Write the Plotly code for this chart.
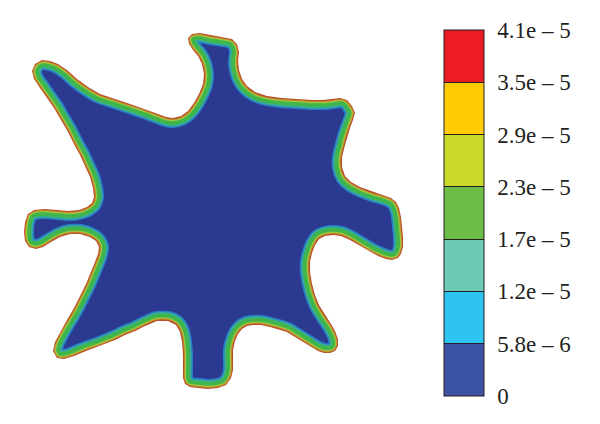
import plotly.graph_objects as go

# Outer edge of the particle outline (image pixel coordinates, y downward)
outline_x = [188,192,200,210,222,232,237,239,238,239,242,247,255,267,282,297,312,323,333,340,347,352,355,353,350,347,345,342,342,345,351,360,373,383,391,396,399,401,402,403,403,401,398,392,386,378,370,360,350,341,333,325,319,315,312,310,310,312,315,319,325,331,335,338,338,335,330,324,318,311,303,295,287,278,270,261,253,247,242,238,235,233,233,233,231,226,218,208,198,190,185,183,183,183,182,180,176,168,157,145,135,125,115,100,86,74,64,57,53,55,60,67,74,80,86,91,95,98,99,96,90,80,70,60,51,43,36,29,25,24,25,28,34,45,57,68,79,87,92,94,93,90,85,80,74,68,61,54,47,40,34,32,35,42,50,58,67,77,88,100,115,130,145,158,166,173,181,188,194,199,203,204,202,198,193,189]
outline_y = [38,34,33,35,37,39,44,52,61,70,79,86,92,96,98,99,100,100,99,98,100,106,113,120,128,137,145,157,167,176,182,187,192,195,198,202,208,217,227,237,247,254,258,260,259,256,252,246,240,236,235,236,239,245,253,262,272,284,295,305,315,324,331,339,346,351,353,353,351,347,342,337,332,329,327,325,325,326,329,334,341,350,360,370,378,385,388,389,388,387,384,378,368,355,342,332,325,321,321,326,331,335,340,346,351,356,359,358,351,342,332,320,308,296,284,272,262,254,247,241,237,234,234,237,242,247,249,247,241,232,222,214,210,209,210,211,210,207,203,197,188,177,166,155,144,132,120,108,98,88,79,71,64,60,61,64,70,79,87,94,99,104,109,114,117,118,116,111,103,94,84,74,64,56,50,44]

# Colour-bar classes
level_labels = ["0", "5.8e \u2013 6", "1.2e \u2013 5", "1.7e \u2013 5", "2.3e \u2013 5",
                "2.9e \u2013 5", "3.5e \u2013 5", "4.1e \u2013 5"]
level_colors = ["#3a53a4", "#2ec4f2", "#6dc8b4", "#6bbd45", "#c9da2a", "#ffcb05", "#ed1c24"]

interior_color = "#2b3990"
# boundary layer (from inside to outside)
ring_colors = ["#2a7fc4", "#37ad9c", "#3fb54c", "#9ac83a", "#c9822e", "#b5502a"]
ring_widths = [20, 17, 14, 6.5, 4, 2]

# page offset of the figure inside the browser window (body margin)
OFF = 8
W, H = 600 - OFF, 424 - OFF

# start the closed path on a straight stretch (upper-left arm edge)
k = [i for i in range(len(outline_x)) if outline_x[i] == 115 and outline_y[i] == 99][0]
xs = outline_x[k:] + outline_x[:k]
ys = outline_y[k:] + outline_y[:k]
xs = xs + [xs[0]]
ys = ys + [ys[0]]

SPL = dict(shape="spline", smoothing=0.8)

fig = go.Figure()

# interior
fig.add_trace(go.Scatter(x=xs, y=ys, mode="lines", fill="toself",
                         fillcolor=interior_color,
                         line=dict(width=0, color=interior_color, **SPL),
                         hoverinfo="skip", showlegend=False))
# boundary layer strokes
for c, w in zip(ring_colors, ring_widths):
    fig.add_trace(go.Scatter(x=xs, y=ys, mode="lines", line=dict(color=c, width=w, **SPL),
                             hoverinfo="skip", showlegend=False))

# white mask outside the particle (rectangle with the outline as a hole)
def area(px, py):
    s = 0
    for i in range(len(px) - 1):
        s += px[i] * py[i + 1] - px[i + 1] * py[i]
    return s / 2

rx = [-20, 620, 620, -20, -20]
ry = [-20, -20, 444, 444, -20]
hx, hy = xs[:], ys[:]
if (area(rx, ry) > 0) == (area(hx, hy) > 0):
    hx, hy = hx[::-1], hy[::-1]
mx = rx + hx + [rx[0]]
my = ry + hy + [ry[0]]
fig.add_trace(go.Scatter(x=mx, y=my, mode="lines", fill="toself", fillcolor="white",
                         line=dict(width=0, color="white"),
                         hoverinfo="skip", showlegend=False))

# discrete colour bar
n = len(level_colors)
cscale = []
for i, c in enumerate(level_colors):
    cscale.append([i / n, c])
    cscale.append([(i + 1) / n, c])

fig.add_trace(go.Scatter(
    x=[None], y=[None], mode="markers", hoverinfo="skip", showlegend=False,
    marker=dict(color=[0], cmin=0, cmax=n, colorscale=cscale, showscale=True,
                colorbar=dict(
                    x=(444 - OFF) / W, xanchor="left", xpad=0,
                    y=1 - (213 - OFF) / H, yanchor="middle", ypad=0,
                    thicknessmode="pixels", thickness=40,
                    lenmode="pixels", len=366,
                    outlinewidth=1, outlinecolor="#231f20",
                    tickmode="array", tickvals=list(range(n + 1)),
                    ticktext=["\u2004" + t for t in level_labels],
                    ticks="inside", ticklen=40, tickwidth=1, tickcolor="#231f20",
                    tickfont=dict(family="Liberation Serif", size=23, color="#231f20"),
                )))
)

fig.update_layout(
    width=W, height=H,
    margin=dict(l=0, r=0, t=0, b=0, autoexpand=False),
    paper_bgcolor="white", plot_bgcolor="white",
    xaxis=dict(range=[OFF, 600], visible=False, fixedrange=True),
    yaxis=dict(range=[424, OFF], visible=False, fixedrange=True),
    hovermode=False,
)

fig.write_html("out.html")
